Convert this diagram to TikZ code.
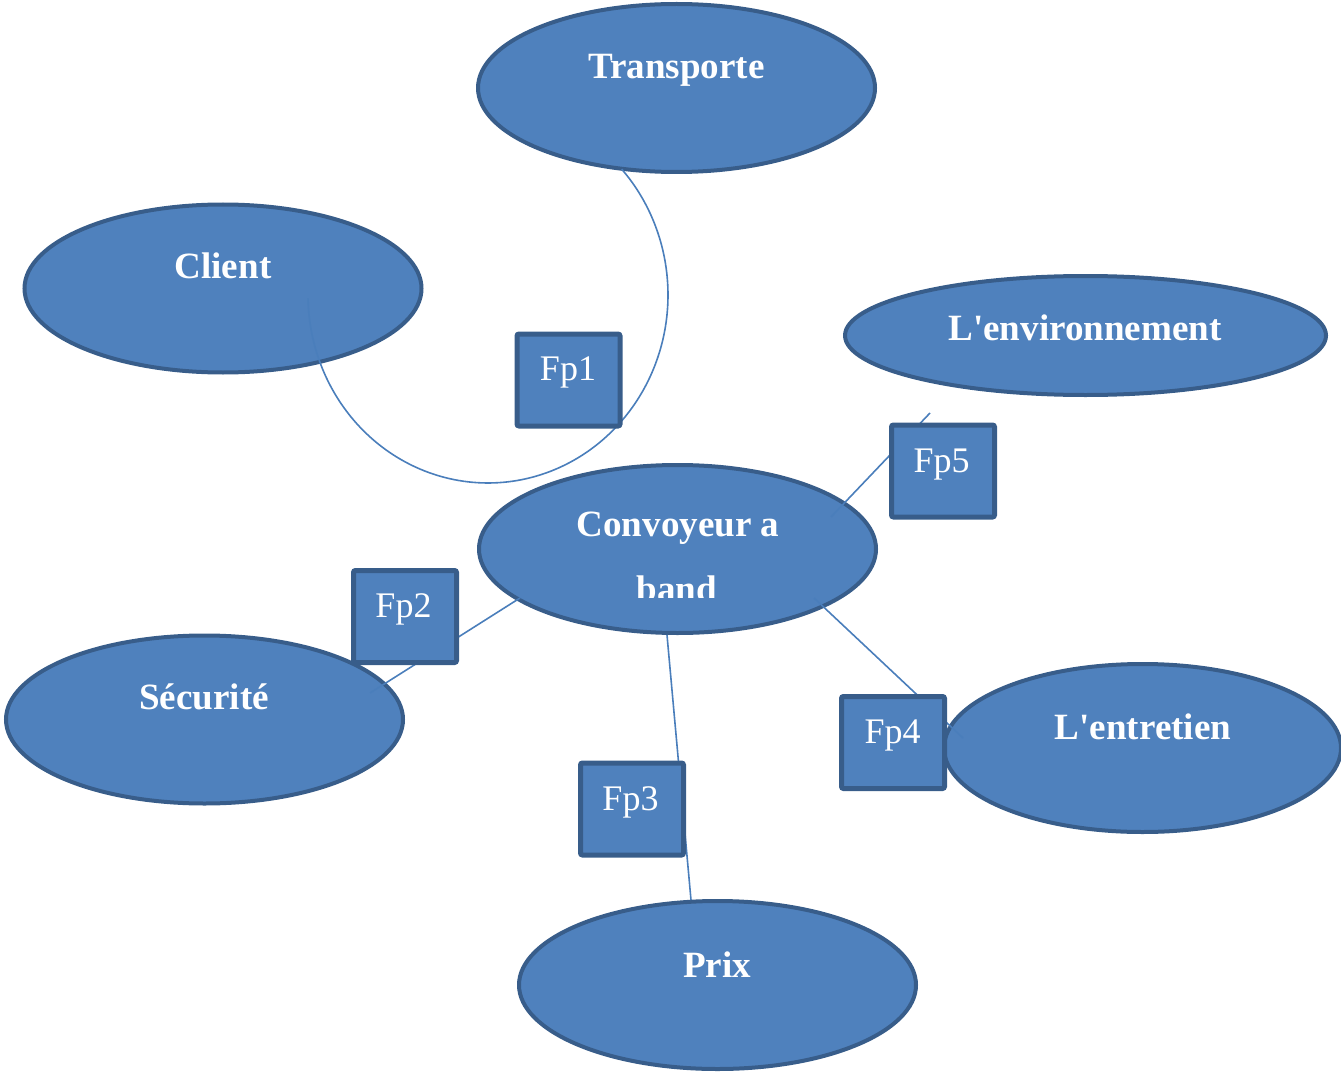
\documentclass[tikz,border=0pt]{standalone}
\usepackage{fontspec}
\setmainfont{Liberation Serif}[Ligatures=TeXOff]
\usetikzlibrary{shapes.geometric}
\definecolor{fillblue}{HTML}{4F81BD}
\definecolor{edgeblue}{HTML}{385D8A}
\definecolor{linkblue}{HTML}{4A7EBB}
\begin{document}
\begin{tikzpicture}[x=0.75pt,y=-0.75pt,
  ell/.style={ellipse, draw=edgeblue, fill=fillblue, line width=3pt, minimum width=297.75pt, minimum height=126pt, inner sep=0pt},
  fpbox/.style={rectangle, rounded corners=1.5pt, draw=edgeblue, fill=fillblue, line width=3.75pt, minimum width=77.25pt, minimum height=69pt, inner sep=0pt},
  lbl/.style={text=white, font=\fontsize{27.8}{33}\selectfont\bfseries, anchor=base, inner sep=0pt},
  fplbl/.style={text=white, font=\fontsize{27}{32}\selectfont, anchor=base, inner sep=0pt},
  link/.style={draw=linkblue, line width=1.2pt}]
\useasboundingbox (0,0) rectangle (1341,1073);
% ellipses
\node[ell] (tr) at (676.5,88) {};
\node[ell] (cl) at (223,288.5) {};
\node[ell, minimum width=360.75pt, minimum height=89.25pt] (env) at (1085.5,335.5) {};
\node[ell] (cv) at (677.5,549) {};
\node[ell] (se) at (204.5,719.5) {};
\node[ell] (en) at (1142.5,748) {};
\node[ell] (px) at (717.5,985) {};
% connector end points
\coordinate (l2a) at (520,598);
\coordinate (l2b) at (370,693);
\coordinate (l3a) at (667,635);
\coordinate (l3b) at (691,900);
\coordinate (l4a) at (814,598);
\coordinate (l4b) at (963,738);
\coordinate (l5a) at (930,413);
\coordinate (l5b) at (831,517);
% connectors
\draw[link] plot[smooth, domain=179:-42, samples=80] ({488+180*cos(\x)},{295+188*sin(\x)});
\draw[link] (l2a) -- (l2b);
\draw[link] (l3a) -- (l3b);
\draw[link] (l4a) -- (l4b);
\draw[link] (l5a) -- (l5b);
% boxes
\node[fpbox] (b1) at (568.5,380) {};
\node[fpbox] (b5) at (943,471) {};
\node[fpbox] (b2) at (405,616.5) {};
\node[fpbox] (b4) at (893,742.5) {};
\node[fpbox] (b3) at (632,809) {};
% box labels
\node[fplbl] (t1) at (568,380) {Fp1};
\node[fplbl] (t5) at (941.5,472) {Fp5};
\node[fplbl] (t2) at (403.5,617) {Fp2};
\node[fplbl] (t4) at (892.5,743) {Fp4};
\node[fplbl] (t3) at (630.5,810) {Fp3};
% ellipse labels
\node[lbl] (ttr) at (676.5,79) {Transporte};
\node[lbl] (tcl) at (223,278) {Client};
\node[lbl] (tenv) at (1085,340) {L'environnement};
\node[lbl] (tcv) at (678,536) {Convoyeur a};
\begin{scope}
\clip (400,400) rectangle (950,597);
\node[lbl] (tcv2) at (677,601.5) {band};
\end{scope}
\node[lbl] (tse) at (204,709) {Sécurité};
\node[lbl] (ten) at (1143,739) {L'entretien};
\node[lbl] (tpx) at (717,977) {Prix};
\end{tikzpicture}
\end{document}
